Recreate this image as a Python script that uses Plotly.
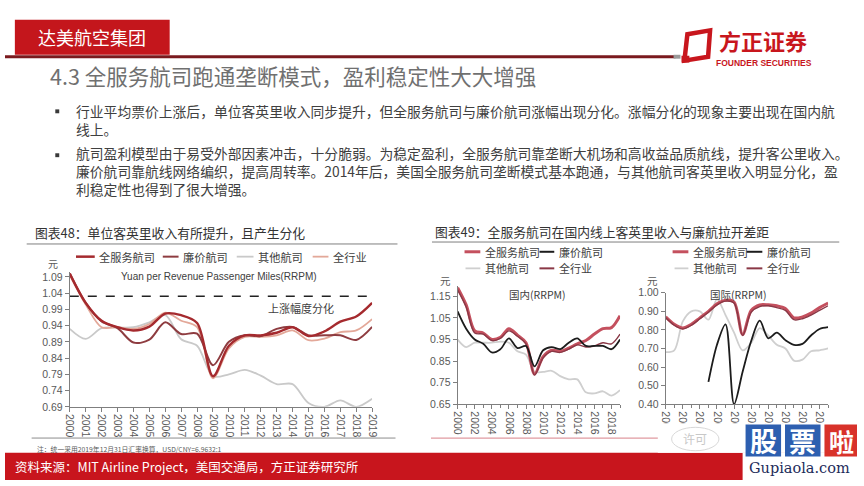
import plotly.graph_objects as go

W, H = 864, 486
years = list(range(2000, 2020))

# ---- 图表48 data (元/RRPM) ----
full48 = [1.10, 1.01, 0.955, 0.935, 0.925, 0.937, 0.977, 0.972, 0.948, 0.784, 0.878, 0.910, 0.910, 0.918, 0.935, 0.908, 0.922, 0.952, 0.968, 1.010]
lcc48 = [1.10, 1.01, 0.953, 0.932, 0.888, 0.897, 0.950, 0.914, 0.915, 0.818, 0.890, 0.910, 0.908, 0.930, 0.936, 0.910, 0.910, 0.910, 0.896, 0.936]
other48 = [0.930, 0.899, 0.932, 0.934, 0.935, 0.950, 0.972, 0.898, 0.878, 0.784, 0.790, 0.804, 0.786, 0.760, 0.760, 0.702, 0.690, 0.710, 0.690, 0.715]
ind48 = [1.095, 1.005, 0.935, 0.935, 0.930, 0.945, 0.980, 0.955, 0.935, 0.778, 0.870, 0.905, 0.905, 0.910, 0.925, 0.895, 0.900, 0.920, 0.925, 0.960]
threshold48 = 1.03
yticks48 = [0.69, 0.74, 0.79, 0.84, 0.89, 0.94, 0.99, 1.04, 1.09]

# ---- 图表49 国内 ----
full49d = [1.19, 1.11, 0.99, 0.98, 0.95, 0.96, 1.00, 0.97, 0.935, 0.79, 0.87, 0.90, 0.895, 0.91, 0.93, 0.945, 0.975, 1.00, 1.005, 1.06]
lcc49d = [1.08, 1.00, 0.95, 0.93, 0.89, 0.905, 0.955, 0.91, 0.92, 0.825, 0.90, 0.915, 0.905, 0.935, 0.955, 0.92, 0.92, 0.92, 0.905, 0.95]
other49d = [0.95, 0.915, 0.935, 0.935, 0.935, 0.94, 0.935, 0.895, 0.88, 0.80, 0.80, 0.805, 0.78, 0.765, 0.765, 0.705, 0.70, 0.71, 0.69, 0.715]
ind49d = [1.18, 1.10, 0.98, 0.975, 0.945, 0.955, 0.99, 0.965, 0.93, 0.785, 0.865, 0.895, 0.89, 0.905, 0.925, 0.915, 0.92, 0.935, 0.93, 0.975]
yticks49d = [0.65, 0.75, 0.85, 0.95, 1.05, 1.15]

# ---- 图表49 国际 ----
full49i = [0.87, 0.83, 0.81, 0.83, 0.865, 0.90, 0.94, 0.96, 0.95, 0.775, 0.905, 0.935, 0.935, 0.93, 0.915, 0.865, 0.87, 0.89, 0.92, 0.945]
ind49i = [0.865, 0.825, 0.805, 0.825, 0.86, 0.895, 0.935, 0.955, 0.945, 0.77, 0.895, 0.925, 0.93, 0.92, 0.905, 0.855, 0.86, 0.88, 0.905, 0.93]
lcc49i = [None, None, None, None, None, 0.52, 0.72, 0.83, 0.40, 0.575, 0.74, 0.85, 0.755, 0.785, 0.745, 0.72, 0.725, 0.77, 0.805, 0.815]
other49i = [0.68, 0.69, 0.846, 0.90, 0.90, 0.855, 0.965, 0.88, 0.785, 0.69, 0.73, 0.81, 0.77, 0.72, 0.70, 0.635, 0.64, 0.685, 0.69, 0.70]
yticks49i = [0.40, 0.50, 0.60, 0.70, 0.80, 0.90, 1.00]
xticks49 = list(range(2000, 2019, 2))

names = ["全服务航司", "廉价航司", "其他航司", "全行业"]

C48 = {"full": "#a52a2e", "lcc": "#8e3c40", "other": "#c9c9c9", "ind": "#e3a899"}
C49 = {"full": "#c4505e", "lcc": "#1c1c1c", "other": "#cfcfcf", "ind": "#8a3846"}

FONT = "Liberation Sans, Noto Sans CJK SC, sans-serif"
CJK = "Noto Sans CJK SC, sans-serif"


def px(x):
    return x / W


def py(y):
    return 1 - y / H


fig = go.Figure()


def add_line(x, y, color, width, xa, ya):
    fig.add_trace(go.Scatter(x=x, y=y, mode="lines", xaxis=xa, yaxis=ya,
                             line=dict(color=color, width=width, shape="spline", smoothing=0.9),
                             connectgaps=False, showlegend=False, hoverinfo="skip"))


# left chart
add_line(years, other48, C48["other"], 1.8, "x", "y")
add_line(years, ind48, C48["ind"], 1.8, "x", "y")
add_line(years, lcc48, C48["lcc"], 2.0, "x", "y")
add_line(years, full48, C48["full"], 2.4, "x", "y")
fig.add_trace(go.Scatter(x=[years[0], years[-1]], y=[threshold48, threshold48], mode="lines",
                         xaxis="x", yaxis="y", line=dict(color="#222222", width=1.5, dash="dash"),
                         showlegend=False, hoverinfo="skip"))

# middle chart
add_line(years, other49d, C49["other"], 1.8, "x2", "y2")
add_line(years, full49d, C49["full"], 3.0, "x2", "y2")
add_line(years, ind49d, C49["ind"], 1.4, "x2", "y2")
add_line(years, lcc49d, C49["lcc"], 1.8, "x2", "y2")

# right chart
add_line(years, other49i, C49["other"], 1.8, "x3", "y3")
add_line(years, full49i, C49["full"], 3.0, "x3", "y3")
add_line(years, ind49i, C49["ind"], 1.4, "x3", "y3")
add_line(years, lcc49i, C49["lcc"], 1.8, "x3", "y3")

axis_common = dict(showline=True, linecolor="#7f7f7f", linewidth=1, ticks="outside", ticklen=4,
                   tickcolor="#7f7f7f", showgrid=False, zeroline=False,
                   tickfont=dict(family=FONT, size=10.5, color="#595959"), fixedrange=True)

layout = dict(
    width=W, height=H, margin=dict(l=0, r=0, t=0, b=0),
    paper_bgcolor="white", plot_bgcolor="white", showlegend=False,
    xaxis=dict(domain=[px(65.7), px(372.3)], range=[2000, 2019], anchor="y",
               tickvals=years, tickangle=90, **axis_common),
    yaxis=dict(domain=[py(411), py(272.7)], range=[0.69, 1.105], anchor="x",
               tickvals=yticks48, ticktext=["%.2f" % v for v in yticks48], **axis_common),
    xaxis2=dict(domain=[px(459), px(623.7)], range=[2000, 2019], anchor="y2",
                tickvals=xticks49, tickangle=90,
                minor=dict(ticks="outside", ticklen=3, dtick=1, tick0=2000, tickcolor="#7f7f7f"),
                **axis_common),
    yaxis2=dict(domain=[py(408.3), py(286.6)], range=[0.65, 1.20], anchor="x2",
                tickvals=yticks49d, ticktext=["%.2f" % v for v in yticks49d], **axis_common),
    xaxis3=dict(domain=[px(670), px(834.7)], range=[2000, 2019], anchor="y3",
                tickvals=xticks49, tickangle=90,
                minor=dict(ticks="outside", ticklen=3, dtick=1, tick0=2000, tickcolor="#7f7f7f"),
                **axis_common),
    yaxis3=dict(domain=[py(408.3), py(294)], range=[0.40, 1.00], anchor="x3",
                tickvals=yticks49i, ticktext=["%.2f" % v for v in yticks49i], **axis_common),
)
fig.update_layout(**layout)

shapes = []
ann = []


def rect(x0, y0, x1, y1, fill, line=None, lw=0):
    shapes.append(dict(type="rect", xref="paper", yref="paper", x0=px(x0), x1=px(x1),
                       y0=py(y1), y1=py(y0), fillcolor=fill,
                       line=dict(width=lw, color=line or fill), layer="above"))


def hline(x0, x1, y, color, width, dash="solid"):
    shapes.append(dict(type="line", xref="paper", yref="paper", x0=px(x0), x1=px(x1),
                       y0=py(y), y1=py(y), line=dict(color=color, width=width, dash=dash),
                       layer="above"))


def txt(x, y, s, size, color="#404040", xanchor="left", family=CJK, bold=False, bg=None):
    if bold:
        s = "<b>" + s + "</b>"
    d = dict(xref="paper", yref="paper", x=px(x), y=py(y), text=s, showarrow=False,
             xanchor=xanchor, yanchor="middle", align="left",
             font=dict(family=family, size=size, color=color))
    if bg:
        d["bgcolor"] = bg
    ann.append(d)


# ---- header ----
hline(0, 680, 52, "#7a1a1e", 3)
rect(678, 50, 685, 54, "#9a9a9a")
rect(10, 14, 167, 50, "#c4161c")
txt(88.5, 32, "达美航空集团", 18, "white", xanchor="center")
# logo
shapes.append(dict(type="path", xref="paper", yref="paper", layer="above",
                   path="M %f %f L %f %f L %f %f L %f %f Z" % (px(692), py(29), px(715), py(25), px(713), py(52), px(689), py(56)),
                   fillcolor="rgba(0,0,0,0)", line=dict(color="#c8161d", width=4.5)))
rect(686, 51, 694, 58, "#c8161d")
txt(769, 35, "方正证券", 22, "#c8161d", xanchor="center", bold=True)
txt(770, 58, "FOUNDER SECURITIES", 8.5, "#c8161d", xanchor="center", family=FONT, bold=True)

txt(44, 71, "4.3 全服务航司跑通垄断模式，盈利稳定性大大增强", 21.5, "#707070")

# ---- bullets ----
rect(51, 106, 55, 110, "#3a3a3a")
rect(51, 151, 55, 155, "#3a3a3a")
bullet1 = ["行业平均票价上涨后，单位客英里收入同步提升，但全服务航司与廉价航司涨幅出现分化。涨幅分化的现象主要出现在国内航",
           "线上。"]
bullet2 = ["航司盈利模型由于易受外部因素冲击，十分脆弱。为稳定盈利，全服务航司靠垄断大机场和高收益品质航线，提升客公里收入。",
           "廉价航司靠航线网络编织，提高周转率。2014年后，美国全服务航司垄断模式基本跑通，与其他航司客英里收入明显分化，盈",
           "利稳定性也得到了很大增强。"]
txt(70, 117, "<br>".join(bullet1), 13.8, "#404040")
txt(70, 169, "<br>".join(bullet2), 13.8, "#404040")

# ---- chart 48 decorations ----
txt(28, 232, "图表48：单位客英里收入有所提升，且产生分化", 12.8, "#333333")
hline(22, 398, 244, "#7f7f7f", 1)
leg48 = [(72, 91, 93, C48["full"], 2.5), (160, 176, 178, C48["lcc"], 2.0),
         (235, 252, 255, C48["other"], 1.8), (312, 328, 331, C48["ind"], 1.8)]
for (a, b, t, c, w), n in zip(leg48, names):
    hline(a, b, 257, c, w)
    txt(t, 257, n, 11.2, "#404040")
txt(49, 264.5, "元", 10, "#595959", xanchor="center")
txt(217, 277, "Yuan per Revenue Passenger Miles(RRPM)", 10, "#404040", xanchor="center", family=FONT)
txt(300, 310, "上涨幅度分化", 11, "#404040", xanchor="center")
hline(27, 396, 443, "#8c8c8c", 1)
txt(30, 454, "注：统一采用2019年12月31日汇率换算，USD/CNY=6.9632:1", 6.8, "#595959")

# ---- chart 49 decorations ----
txt(434, 231, "图表49：全服务航司在国内线上客英里收入与廉航拉开差距", 12.8, "#333333")
hline(433, 846, 242, "#7f7f7f", 1)
legmid = [(466, 482, 485, 252, C49["full"], 3), (542, 557, 560, 252, C49["lcc"], 2),
          (467, 482, 485, 269, C49["other"], 1.8), (542, 557, 560, 269, C49["ind"], 2)]
for (a, b, t, y, c, w), n in zip(legmid, names):
    hline(a, b, y, c, w)
    txt(t, y, n, 11, "#404040")
legr = [(677, 693, 696, 252, C49["full"], 3), (752, 768, 771, 252, C49["lcc"], 2),
        (679, 693, 696, 269, C49["other"], 1.8), (752, 768, 771, 269, C49["ind"], 2)]
for (a, b, t, y, c, w), n in zip(legr, names):
    hline(a, b, y, c, w)
    txt(t, y, n, 11, "#404040")
txt(447, 281, "元", 10.5, "#595959", xanchor="center")
txt(657, 281, "元", 10.5, "#595959", xanchor="center")
txt(540, 296, "国内(RRPM)", 10.5, "#404040", xanchor="center")
txt(744, 296, "国际(RRPM)", 10.5, "#404040", xanchor="center")
hline(432, 668, 443, "#e09aa0", 1.2)

# ---- footer ----
rect(0, 458, W, 486, "#c8151d")
txt(8, 472, "资料来源：MIT Airline Project，美国交通局，方正证券研究所", 12.5, "white")

# ---- watermark ----
rect(662, 428, W, 458, "white")
rect(748, 458, W, 486, "white")
txt(700, 443, "许可", 12, "#c8c8c8", xanchor="center")
shapes.append(dict(type="circle", xref="paper", yref="paper", layer="above",
                   x0=px(676), x1=px(724), y0=py(456), y1=py(432),
                   line=dict(color="#d8d8d8", width=1), fillcolor="rgba(0,0,0,0)"))
rect(751, 429, 787, 462, "#2d5fb0")
rect(791, 429, 827, 462, "#2d5fb0")
rect(831, 429, 864, 462, "#d8322a")
txt(769, 446, "股", 27, "white", xanchor="center", bold=True)
txt(809, 446, "票", 27, "white", xanchor="center", bold=True)
txt(848, 446, "啦", 25, "white", xanchor="center", bold=True)
txt(806, 474, "Gupiaola.com", 14.5, "#1d2b5a", xanchor="center", family="DejaVu Serif, serif")

fig.update_layout(shapes=shapes, annotations=ann)
fig.write_html("out.html")
